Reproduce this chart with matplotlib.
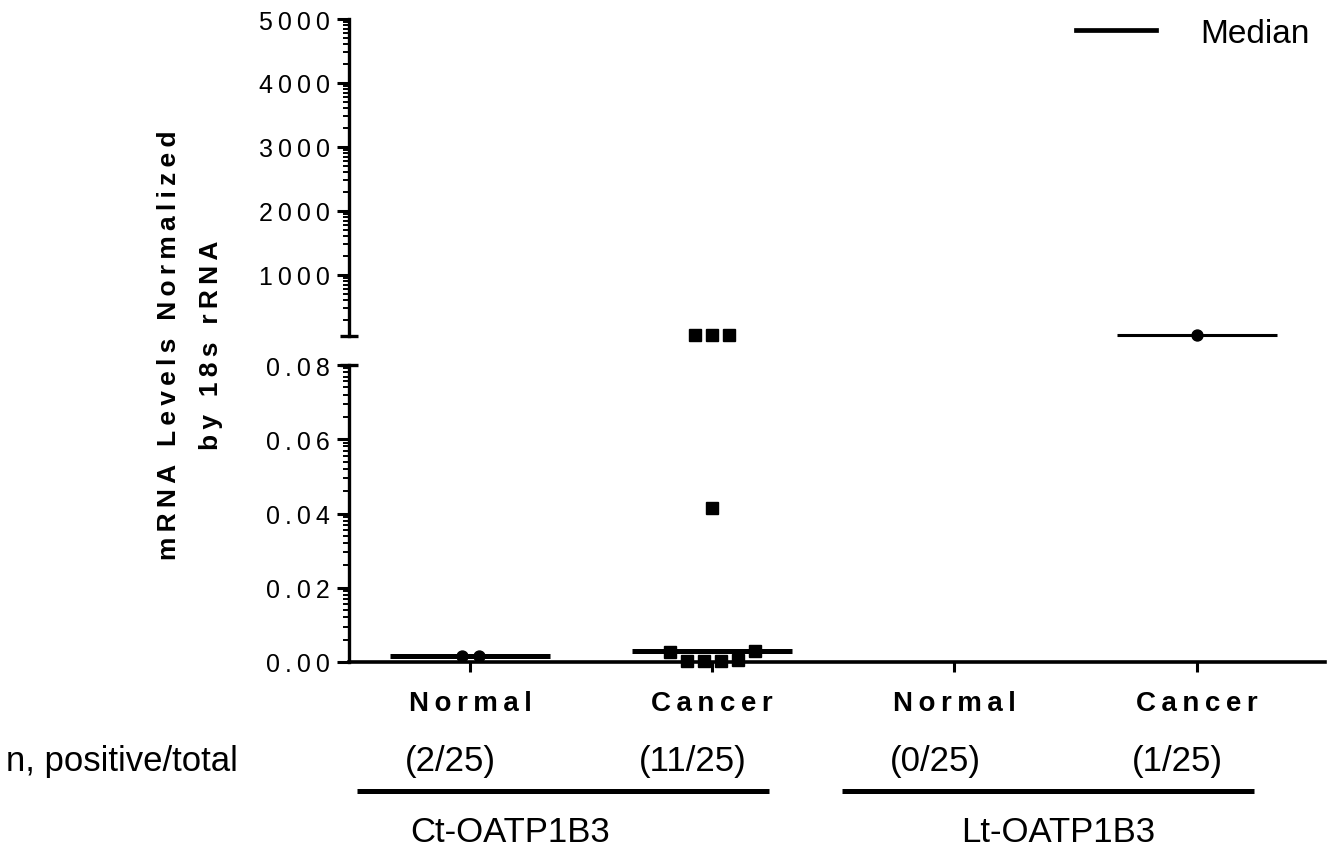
import numpy as np
import matplotlib
matplotlib.use('Agg')
import matplotlib.pyplot as plt
from matplotlib.lines import Line2D
from matplotlib.ticker import FixedLocator, FuncFormatter
from matplotlib.transforms import blended_transform_factory

DPI = 100
W, H = 1329, 854

plt.rcParams['font.family'] = ['Liberation Sans', 'DejaVu Sans']

# values
categories = ['Normal', 'Cancer', 'Normal', 'Cancer']
positives = ['(2/25)', '(11/25)', '(0/25)', '(1/25)']
groups = ['Ct-OATP1B3', 'Lt-OATP1B3']
group_members = [(0, 1), (2, 3)]

ct_normal = [0.0015, 0.0017]
ct_cancer = [0.0002, 0.0003, 0.0004, 0.0006, 0.0028, 0.0030, 0.0415, 55, 55, 55]
lt_normal = []
lt_cancer = [55]
series = [ct_normal, ct_cancer, lt_normal, lt_cancer]

low_ticks = [0.00, 0.02, 0.04, 0.06, 0.08]
high_ticks = [1000, 2000, 3000, 4000, 5000]
BREAK = 0.08

markers = ['o', 's', 'o', 'o']
median_lw = [3.6, 3.6, 2.2, 2.2]

THIN = '\u2009'


def spaced(s, sep):
    return sep.join(s)


def px_axes(l, t, r, b):
    return fig.add_axes([l / W, 1 - b / H, (r - l) / W, (b - t) / H])


def swarm(ax, values, center, size_px, step_px):
    # GraphPad-like scatter: rows centred, overlapping rows pushed outward
    vals = np.asarray(values, float)
    if vals.size == 0:
        return vals
    py = ax.transData.transform(np.column_stack([np.zeros_like(vals), vals]))[:, 1]
    unit = ax.transData.transform((1, 0))[0] - ax.transData.transform((0, 0))[0]
    d = step_px / unit
    rows = []
    for i in np.argsort(vals, kind='stable'):
        if rows and abs(py[i] - py[rows[-1][0]]) < size_px / 2:
            rows[-1].append(i)
        else:
            rows.append([i])
    xs = np.empty_like(vals)
    prev_half, prev_y = None, None
    for row in rows:
        n = len(row)
        y = py[row[0]]
        if prev_y is not None and abs(y - prev_y) < size_px:
            offs = [(-1 if j % 2 == 0 else 1) * (prev_half + d * (j // 2 + 1)) for j in range(n)]
            half = prev_half + d * ((n + 1) // 2)
        else:
            offs = [(j - (n - 1) / 2) * d for j in range(n)]
            half = (n - 1) / 2 * d
        for i, o in zip(row, offs):
            xs[i] = center + o
        prev_half, prev_y = half, y
    return xs


fig = plt.figure(figsize=(W / DPI, H / DPI), dpi=DPI)
ax_hi = px_axes(349, 20, 1325, 337)
ax_lo = px_axes(349, 366, 1325, 663)

for ax in (ax_hi, ax_lo):
    ax.set_xlim(-0.5, 3.53)
    ax.spines['top'].set_visible(False)
    ax.spines['right'].set_visible(False)
    ax.spines['left'].set_linewidth(2.4)
    ax.tick_params(axis='y', which='major', length=8.6, width=2.2, pad=5, labelsize=18)
    ax.tick_params(axis='y', which='minor', length=4.3, width=1.4)
    ax.patch.set_visible(False)

ax_hi.spines['bottom'].set_visible(False)
ax_hi.tick_params(axis='x', bottom=False, labelbottom=False)
ax_hi.set_ylim(45, 5000)
ax_hi.yaxis.set_major_locator(FixedLocator(high_ticks))
ax_hi.yaxis.set_minor_locator(FixedLocator(
    [m + 1000 * np.log10(k) for m in [0] + high_ticks[:-1] for k in range(2, 10)
     if m + 1000 * np.log10(k) > 45]))
ax_hi.yaxis.set_major_formatter(FuncFormatter(lambda v, p: spaced(f'{v:.0f}', THIN)))

ax_lo.set_ylim(0, BREAK)
ax_lo.spines['bottom'].set_linewidth(2.6)
ax_lo.yaxis.set_major_locator(FixedLocator(low_ticks))
step = low_ticks[1] - low_ticks[0]
ax_lo.yaxis.set_minor_locator(FixedLocator(
    [m + step * np.log10(k) for m in low_ticks[:-1] for k in range(2, 10)]))
ax_lo.yaxis.set_major_formatter(FuncFormatter(lambda v, p: spaced(f'{v:.2f}', THIN)))

# break caps
cap = 9 / (1325 - 349)
ax_lo.plot([-cap, cap], [1, 1], transform=ax_lo.transAxes, color='black', lw=2.4,
           clip_on=False, solid_capstyle='butt')
ax_hi.plot([-cap, cap], [0, 0], transform=ax_hi.transAxes, color='black', lw=2.4,
           clip_on=False, solid_capstyle='butt')

ax_lo.set_xticks(range(len(categories)))
ax_lo.set_xticklabels([spaced(c, THIN) for c in categories], fontsize=20, fontweight='bold')
ax_lo.tick_params(axis='x', length=7, width=2.2, pad=13, direction='out')
for lab in ax_lo.get_xticklabels():
    lab.set_x(lab.get_position()[0])

# points and medians
for i, vals in enumerate(series):
    if not vals:
        continue
    vals = np.asarray(vals, float)
    ms = 8.6 if markers[i] == 's' else 7.9
    for ax, sel in ((ax_lo, vals <= BREAK), (ax_hi, vals > BREAK)):
        if sel.any():
            xs = swarm(ax, vals[sel], i, 12, 17)
            ax.plot(xs, vals[sel], linestyle='none', marker=markers[i], ms=ms,
                    color='black', clip_on=False, zorder=4)
    med = np.median(vals)
    ax = ax_hi if med > BREAK else ax_lo
    ax.plot([i - 0.33, i + 0.33], [med, med], color='black', lw=median_lw[i],
            solid_capstyle='butt', clip_on=False, zorder=3)

# legend
ax_hi.legend([Line2D([], [], color='black', lw=3.4)], ['Median'], loc='upper right',
             bbox_to_anchor=(0.9846, 1.003), frameon=False, fontsize=24, borderaxespad=0,
             borderpad=0, handlelength=2.4, handletextpad=1.35)

# y label
ylab_kw = dict(rotation=90, ha='center', va='center', fontsize=19, fontweight='bold')
fig.text(169 / W, 1 - 345 / H, spaced('mRNA Levels Normalized', THIN), **ylab_kw)
fig.text(211 / W, 1 - 345 / H, spaced('by 18s rRNA', THIN), **ylab_kw)

# n positive/total row and group labels
tr = blended_transform_factory(ax_lo.transData, fig.transFigure)
fig.text(6 / W, 1 - 762 / H, 'n, positive/total', ha='left', va='center', fontsize=25)
for i, p in enumerate(positives):
    ax_lo.text(i - 0.08, 1 - 762 / H, p, transform=tr, ha='center', va='center', fontsize=25)
name_offsets = [0.165, 0.43]
for (a, b), name, off in zip(group_members, groups, name_offsets):
    ax_lo.plot([a - 0.465, b + 0.235], [1 - 792 / H] * 2, transform=tr, color='black',
               lw=3.6, clip_on=False, solid_capstyle='butt')
    ax_lo.text(a + off, 1 - 833 / H, name, transform=tr, ha='center', va='center', fontsize=25)

fig.savefig('out.png', dpi=DPI)
